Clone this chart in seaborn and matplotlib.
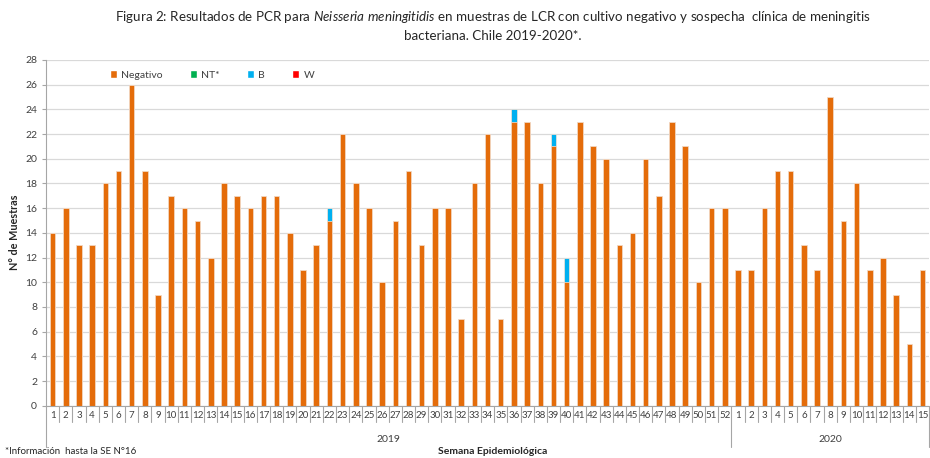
import matplotlib
matplotlib.use("Agg")
import matplotlib.pyplot as plt
import matplotlib.transforms as mtransforms
from matplotlib.patches import Patch
import pandas as pd
import seaborn as sns

# weeks (semana epidemiologica)
semanas_2019 = list(range(1, 53))
semanas_2020 = list(range(1, 16))

negativo_2019 = [14, 16, 13, 13, 18, 19, 26, 19, 9, 17,
                 16, 15, 12, 18, 17, 16, 17, 17, 14, 11,
                 13, 15, 22, 18, 16, 10, 15, 19, 13, 16,
                 16, 7, 18, 22, 7, 23, 23, 18, 21, 10,
                 23, 21, 20, 13, 14, 20, 17, 23, 21, 10,
                 16, 16]
negativo_2020 = [11, 11, 16, 19, 19, 13, 11, 25, 15, 18, 11, 12, 9, 5, 11]

b_2019 = [0, 0, 0, 0, 0, 0, 0, 0, 0, 0,
          0, 0, 0, 0, 0, 0, 0, 0, 0, 0,
          0, 1, 0, 0, 0, 0, 0, 0, 0, 0,
          0, 0, 0, 0, 0, 1, 0, 0, 1, 2,
          0, 0, 0, 0, 0, 0, 0, 0, 0, 0,
          0, 0]
b_2020 = [0, 0, 0, 0, 0, 0, 0, 0, 0, 0, 0, 0, 0, 0, 0]

nt_2019 = [0] * 52
nt_2020 = [0] * 15
w_2019 = [0] * 52
w_2020 = [0] * 15

series = ["Negativo", "NT*", "B", "W"]
colors = {"Negativo": "#E46C0A", "NT*": "#00B050", "B": "#00B0F0", "W": "#FF0000"}

df = pd.DataFrame({
    "semana": semanas_2019 + semanas_2020,
    "anio": ["2019"] * len(semanas_2019) + ["2020"] * len(semanas_2020),
    "Negativo": negativo_2019 + negativo_2020,
    "NT*": nt_2019 + nt_2020,
    "B": b_2019 + b_2020,
    "W": w_2019 + w_2020,
})
df["pos"] = range(len(df))

# cumulative stacks
cum = 0
for s in series:
    cum = cum + df[s]
    df["cum_" + s] = cum

sns.set_theme(style="white")
plt.rcParams["font.family"] = ["Lato", "DejaVu Sans"]
plt.rcParams["mathtext.fontset"] = "custom"
plt.rcParams["mathtext.rm"] = "Lato"
plt.rcParams["mathtext.it"] = "Lato:italic"

fig = plt.figure(figsize=(9.3, 4.58), dpi=100)
ax = fig.add_axes([0.0495, 0.1142, 0.9495, 0.7548])

# draw top of stack first, then cover with lower layers
for s in reversed(series):
    if df[s].sum() == 0:
        continue
    sns.barplot(data=df, x="pos", y="cum_" + s, color=colors[s], saturation=1,
                width=0.42, edgecolor="#FBE3D3", linewidth=0.5, ax=ax, zorder=2)

ax.set_xlim(-0.5, len(df) - 0.5)
ax.set_ylim(0, 28)
ax.set_yticks(range(0, 29, 2))
ax.yaxis.grid(True, color="#D9D9D9", linewidth=0.9)
ax.set_axisbelow(True)
for side in ["top", "right"]:
    ax.spines[side].set_visible(False)
ax.spines["left"].set_color("#A6A6A6")
ax.spines["bottom"].set_color("#A6A6A6")
ax.spines["left"].set_linewidth(0.8)
ax.spines["bottom"].set_linewidth(0.8)

ax.set_xticks(df["pos"])
ax.set_xticklabels(df["semana"].astype(str))
ax.tick_params(axis="x", length=0, pad=4, labelsize=7, labelcolor="#404040")
ax.tick_params(axis="y", length=3, color="#A6A6A6", width=0.8, labelsize=7.5,
               labelcolor="#404040", left=True)
ax.set_xlabel("")
ax.set_ylabel("")

# multi-level category axis lines
trans = mtransforms.blended_transform_factory(ax.transData, ax.transAxes)
n = len(df)
long_lines = [-0.5, len(semanas_2019) - 0.5, n - 0.5]
for i in range(n + 1):
    x = i - 0.5
    y_end = -0.12 if x in long_lines else -0.047
    ax.plot([x, x], [0, y_end], transform=trans, color="#A6A6A6", lw=0.8,
            clip_on=False)

ax.text((len(semanas_2019) - 1) / 2, -0.099, "2019", transform=trans,
        ha="center", va="center", fontsize=7.5, color="#404040")
ax.text(len(semanas_2019) + (len(semanas_2020) - 1) / 2, -0.099, "2020",
        transform=trans, ha="center", va="center", fontsize=7.5, color="#404040")

handles = [Patch(facecolor=colors[s], label=s) for s in series]
ax.legend(handles=handles, loc="center left", bbox_to_anchor=(0.072, 0.957),
          ncol=4, frameon=False, fontsize=7.5, handlelength=0.7, handleheight=0.7,
          handletextpad=0.4, columnspacing=2.6, borderpad=0, borderaxespad=0,
          labelcolor="#404040")

fig.text(0.53, 1 - 17 / 458,
         r"Figura 2: Resultados de PCR para $\mathit{Neisseria\ meningitidis}$ en muestras de LCR con cultivo negativo y sospecha  clínica de meningitis",
         ha="center", va="center", fontsize=9.6, color="#262626")
fig.text(0.53, 1 - 36 / 458, "bacteriana. Chile 2019-2020*.",
         ha="center", va="center", fontsize=9.6, color="#262626")

fig.text(15 / 930, 1 - 232 / 458, "N° de Muestras", rotation=90, ha="center",
         va="center", fontsize=7.8, fontweight="bold", color="#262626")
fig.text(0.53, 1 - 451 / 458, "Semana Epidemiológica", ha="center", va="center",
         fontsize=7.5, fontweight="bold", color="#262626")
fig.text(0.005, 0.004, "*Información  hasta la SE N°16", ha="left",
         va="bottom", fontsize=7, color="#262626")

fig.savefig("out.png", dpi=100)
